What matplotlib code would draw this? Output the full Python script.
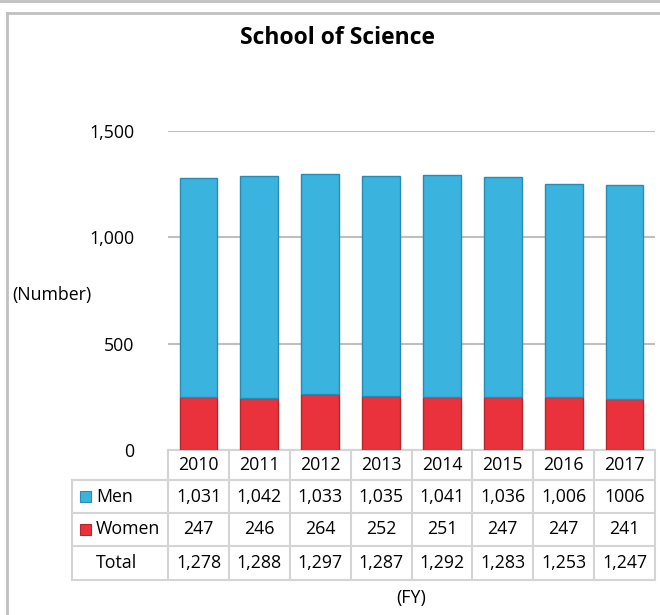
import numpy as np
import matplotlib.pyplot as plt
import matplotlib.transforms as mtransforms
from matplotlib.lines import Line2D
from matplotlib.patches import Rectangle

plt.rcParams['font.family'] = ['Open Sans', 'DejaVu Sans']

# data
years = ['2010', '2011', '2012', '2013', '2014', '2015', '2016', '2017']
men = [1031, 1042, 1033, 1035, 1041, 1036, 1006, 1006]
women = [247, 246, 264, 252, 251, 247, 247, 241]
total = [1278, 1288, 1297, 1287, 1292, 1283, 1253, 1247]
men_labels = ['1,031', '1,042', '1,033', '1,035', '1,041', '1,036', '1,006', '1006']
women_labels = ['247', '246', '264', '252', '251', '247', '247', '241']
total_labels = ['1,278', '1,288', '1,297', '1,287', '1,292', '1,283', '1,253', '1,247']
yticks = [0, 500, 1000, 1500]
ytick_labels = ['0', '500', '1,000', '1,500']

blue = '#3BB3DF'
blue_edge = '#2A8AB2'
red = '#E9323B'
red_edge = '#B8262D'
grid_c = '#BFBFBF'
table_c = '#D4D4D4'
fs = 12.8

W, H = 660, 615
fig = plt.figure(figsize=(W / 100, H / 100), dpi=100)

# outer frame
fig.add_artist(Line2D([0, 1], [1 - 1 / H, 1 - 1 / H], color='#C0C0C0', lw=2, transform=fig.transFigure))
fig.add_artist(Line2D([7 / W, 1], [1 - 13 / H, 1 - 13 / H], color='#C0C0C0', lw=2, transform=fig.transFigure))
fig.add_artist(Line2D([7 / W, 7 / W], [0, 1 - 13 / H], color='#C0C0C0', lw=2, transform=fig.transFigure))

ax_l, ax_r, ax_b, ax_t = 168, 655, 450, 131
ax = fig.add_axes([ax_l / W, 1 - ax_b / H, (ax_r - ax_l) / W, (ax_b - ax_t) / H])

x = np.arange(len(years))
ax.bar(x, women, width=0.62, color=red, edgecolor=red_edge, linewidth=1, zorder=3)
ax.bar(x, men, width=0.62, bottom=women, color=blue, edgecolor=blue_edge, linewidth=1, zorder=3)

ax.set_xlim(-0.5, len(years) - 0.5)
ax.set_ylim(0, 1500)
ax.set_yticks(yticks)
ax.set_yticklabels(ytick_labels, fontsize=fs)
ax.tick_params(axis='y', length=0, pad=24)
ax.set_xticks([])
for s in ax.spines.values():
    s.set_visible(False)
ax.yaxis.grid(True, color=grid_c, lw=1.5)
ax.set_axisbelow(True)

fig.text(338 / W, 1 - 38 / H, 'School of Science', ha='center', va='center',
         fontsize=16.5, fontweight='bold')
fig.text(52 / W, 1 - 295 / H, '(Number)', ha='center', va='center', fontsize=fs)
fig.text(411 / W, 1 - 598 / H, '(FY)', ha='center', va='center', fontsize=fs)

# data table under the axes (x in data units, y in axes fraction)
tr = mtransforms.blended_transform_factory(ax.transData, ax.transAxes)
ph = ax_b - ax_t
rows_px = [450, 480, 513, 546, 580]
rows = [(ax_b - r) / ph for r in rows_px]
col_w = (ax_r - ax_l) / len(years)
lab_left = -0.5 - (ax_l - 72) / col_w
right = len(years) - 0.5

kw = dict(color=table_c, lw=1.5, transform=tr, clip_on=False)
# horizontal lines
ax.add_line(Line2D([-0.5, right], [rows[0], rows[0]], **kw))
for r in rows[1:]:
    ax.add_line(Line2D([lab_left, right], [r, r], **kw))
# vertical lines
ax.add_line(Line2D([lab_left, lab_left], [rows[1], rows[4]], **kw))
for i in range(len(years) + 1):
    ax.add_line(Line2D([i - 0.5, i - 0.5], [rows[0], rows[4]], **kw))

row_texts = [years, men_labels, women_labels, total_labels]
for k, labels in enumerate(row_texts):
    yc = (rows[k] + rows[k + 1]) / 2
    for i, t in enumerate(labels):
        ax.text(i, yc, t, ha='center', va='center', fontsize=fs, transform=tr, clip_on=False)

names = ['Men', 'Women', 'Total']
keys = [(blue, blue_edge), (red, red_edge), None]
name_x = -0.5 - (ax_l - 96) / col_w
key_x = -0.5 - (ax_l - 80) / col_w
for k, (nm, key) in enumerate(zip(names, keys)):
    yc = (rows[k + 1] + rows[k + 2]) / 2
    ax.text(name_x, yc, nm, ha='left', va='center', fontsize=fs, transform=tr, clip_on=False)
    if key is not None:
        kh = 11 / ph
        ax.add_patch(Rectangle((key_x, yc - kh / 2), 11 / col_w, kh, facecolor=key[0],
                               edgecolor=key[1], lw=0.8, transform=tr, clip_on=False))

fig.savefig('out.png', dpi=100)
